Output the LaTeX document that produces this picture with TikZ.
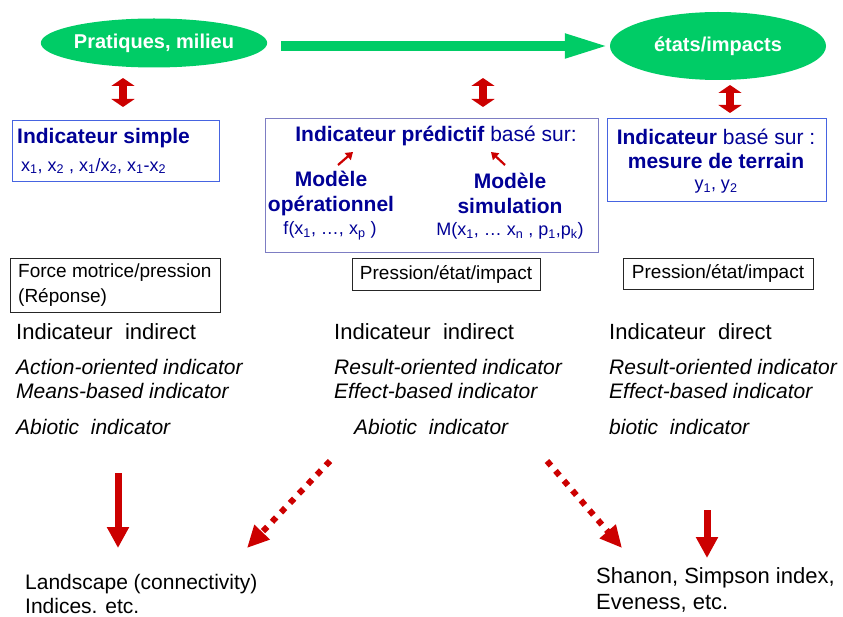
\documentclass[tikz,border=0pt]{standalone}
\usepackage{fontspec}
\setmainfont{Liberation Sans}
\usetikzlibrary{arrows.meta, positioning, shapes.geometric}

\definecolor{ecogreen}{RGB}{0,204,102}
\definecolor{arrowred}{RGB}{204,0,0}
\definecolor{navytext}{RGB}{0,0,150}
\definecolor{boxblue}{RGB}{70,100,225}
\definecolor{boxlilac}{RGB}{125,125,195}
\newcommand{\fsz}[2]{\fontsize{#1}{#2}\selectfont}

\begin{document}
\begin{tikzpicture}[x=1pt, y=-1pt,
  greenell/.style={ellipse, fill=ecogreen, text=white, font=\bfseries\fsz{20}{24}, inner sep=0pt},
  framebox/.style={draw=boxblue, line width=1pt, anchor=north west, inner sep=0pt},
  blackbox/.style={draw=black!85, line width=0.8pt, inner sep=0pt, font=\fsz{19}{24}},
  lbl/.style={inner sep=0pt, anchor=west},
  navybold/.style={inner sep=0pt, text=navytext, font=\bfseries\fsz{21}{25}, align=center},
  navyplain/.style={inner sep=0pt, text=navytext, font=\fsz{18}{22}},
  headtxt/.style={lbl, font=\fsz{22}{24}},
  itxt/.style={lbl, font=\itshape\fsz{21}{23}},
  basetxt/.style={lbl, font=\fsz{21}{24}},
  greenarrow/.style={line width=10pt, ecogreen, -{Triangle[width=22pt,length=45pt]}},
  dblarrow/.style={line width=8pt, arrowred, {Triangle[width=23pt,length=8pt]}-{Triangle[width=23pt,length=8pt]}},
  redarrow/.style={line width=7pt, arrowred, -{Triangle[width=21pt,length=21pt]}},
  dotarrow/.style={line width=6pt, arrowred, dash pattern=on 6pt off 7pt, -{Triangle[width=20pt,length=22pt]}},
  smallarrow/.style={line width=2.2pt, arrowred, -{Triangle[width=9pt,length=7pt]}}]
\useasboundingbox (0,0) rectangle (843,617);

% top row
\node[greenell, minimum width=199pt, minimum height=49pt] (praq) at (154,43) {Pratiques, milieu};
\node[greenell, minimum width=216pt, minimum height=68pt] (etats) at (718,46) {états/impacts};
\draw[greenarrow] ([xshift=14pt]praq.east |- etats.west) -- (etats.west);

\coordinate (d1a) at (123,78);  \coordinate (d1b) at (123,107);
\coordinate (d2a) at (483,78);  \coordinate (d2b) at (483,107);
\coordinate (d3a) at (730,85);  \coordinate (d3b) at (730,113);
\draw[dblarrow] (d1a) -- (d1b);
\draw[dblarrow] (d2a) -- (d2b);
\draw[dblarrow] (d3a) -- (d3b);

% indicator boxes
\node[framebox, minimum width=207pt, minimum height=61pt] (simple) at (12,120) {};
\node[navybold, anchor=west] (simpletitle) at (17,138) {Indicateur simple};
\node[navyplain, anchor=west] (simplevars) at (21,166)
  {x\textsubscript{1}, x\textsubscript{2} , x\textsubscript{1}/x\textsubscript{2}, x\textsubscript{1}-x\textsubscript{2}};

\node[framebox, draw=boxlilac, minimum width=333pt, minimum height=134pt] (predictif) at (265,118) {};
\node[navyplain, font=\fsz{21}{24}] (predtitle) at (436,136) {\textbf{Indicateur prédictif} basé sur:};
\node[navybold] (modop) at (331,193) {Modèle\\opérationnel};
\node[navyplain] (fop) at (330,231) {f(x\textsubscript{1}, …, x\textsubscript{p} )};
\node[navybold] (modsim) at (510,193) {Modèle\\simulation};
\node[navyplain] (msim) at (510,231) {M(x\textsubscript{1}, … x\textsubscript{n} , p\textsubscript{1},p\textsubscript{k})};
\coordinate (s1a) at (338,165); \coordinate (s1b) at (353,152);
\coordinate (s2a) at (505,165); \coordinate (s2b) at (491,152);
\draw[smallarrow] (s1a) -- (s1b);
\draw[smallarrow] (s2a) -- (s2b);

\node[framebox, minimum width=219pt, minimum height=83pt] (terrain) at (607,118) {};
\node[navyplain, font=\fsz{21}{24}] (terraintitle) at (716,137) {\textbf{Indicateur} basé sur :};
\node[navybold] (mesure) at (716,161) {mesure de terrain};
\node[navyplain] (yvars) at (716,187) {y\textsubscript{1}, y\textsubscript{2}};

% categories
\node[blackbox, anchor=north west, minimum width=210pt, minimum height=54pt] (force) at (10,258) {};
\node[basetxt, font=\fsz{19}{24}] (forcea) at (18,273) {Force motrice/pression};
\node[basetxt, font=\fsz{19}{24}] (forceb) at (18,297) {(Réponse)};
\node[blackbox, minimum width=188pt, minimum height=32pt] (pei1) at (446,274) {Pression/état/impact};
\node[blackbox, minimum width=190pt, minimum height=31pt] (pei2) at (718,273.5) {Pression/état/impact};

% columns
\node[headtxt] (ind1) at (16,332) {Indicateur\ \ indirect};
\node[itxt] (act1) at (16,367) {Action-oriented indicator};
\node[itxt] (mea1) at (16,391) {Means-based indicator};
\node[itxt] (abio1) at (16,427) {Abiotic\ \ indicator};

\node[headtxt] (ind2) at (334,332) {Indicateur\ \ indirect};
\node[itxt] (res2) at (334,367) {Result-oriented indicator};
\node[itxt] (eff2) at (334,391) {Effect-based indicator};
\node[itxt] (abio2) at (354,427) {Abiotic\ \ indicator};

\node[headtxt] (ind3) at (609,332) {Indicateur\ \ direct};
\node[itxt] (res3) at (609,367) {Result-oriented indicator};
\node[itxt] (eff3) at (609,391) {Effect-based indicator};
\node[itxt] (bio3) at (609,427) {biotic\ \ indicator};

% bottom
\coordinate (r1a) at (118,473); \coordinate (r1b) at (118,548);
\coordinate (p1a) at (330,461); \coordinate (p1b) at (247,548);
\coordinate (p2a) at (547,461); \coordinate (p2b) at (622,548);
\coordinate (r2a) at (707,510); \coordinate (r2b) at (707,558);
\draw[redarrow] (r1a) -- (r1b);
\draw[dotarrow] (p1a) -- (p1b);
\draw[dotarrow] (p2a) -- (p2b);
\draw[redarrow] (r2a) -- (r2b);

\node[basetxt] (land) at (25,584) {Landscape (connectivity)};
\node[basetxt] (indices) at (25,606) {Indices. etc.};
\node[basetxt, font=\fsz{22}{24}] (shanon) at (596,578) {Shanon, Simpson index,};
\node[basetxt, font=\fsz{22}{24}] (even) at (596,603) {Eveness, etc.};
\end{tikzpicture}
\end{document}
